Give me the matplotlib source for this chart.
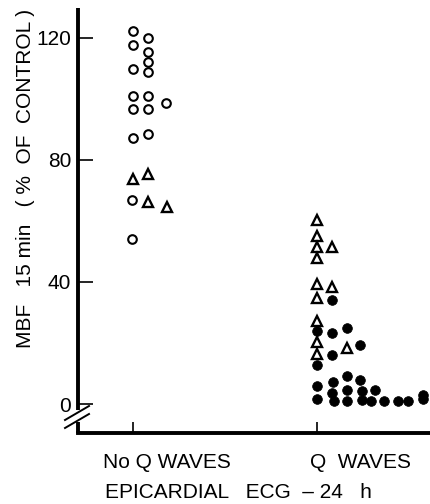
import matplotlib
matplotlib.use("Agg")
import matplotlib.pyplot as plt
from matplotlib.lines import Line2D
from matplotlib import font_manager

plt.rcParams['font.family'] = ['Liberation Sans', 'DejaVu Sans']

# ---- data ----
categories = ["No Q WAVES", "Q WAVES"]
# column index within each group (dot-plot column), value in % of control
noq_circle_col = [0, 1, 0, 1, 1, 0, 1, 0, 1, 2.2, 0, 1, 0, 1, -0.1, -0.1]
noq_circle_val = [122.3, 120.1, 117.6, 115.4, 112.0, 109.7, 108.7, 100.8, 100.8,
                  98.6, 96.6, 96.6, 87.2, 88.5, 66.8, 54.2]
noq_tri_col = [0, 1, 1, 2.25]
noq_tri_val = [73.7, 75.4, 66.2, 64.7]

q_tri_col = [0, 0, 0, 1, 0, 0, 1, 0, 0, 0, 0, 2]
q_tri_val = [60.4, 55.2, 51.4, 51.4, 48.0, 39.2, 38.3, 34.7, 27.2, 20.4, 16.5, 18.2]
q_dot_col = [1, 0, 1, 2, 1, 2.9, 0, 0, 1.1, 2, 2.9, 0, 1, 1.15, 2, 2, 3, 3,
             3.9, 3.6, 4.5, 5.4, 6.1, 7.1, 7.1]
q_dot_val = [34.2, 24.0, 23.2, 25.0, 16.2, 19.4, 12.8, 6.0, 7.3, 9.3, 8.0, 1.8,
             3.6, 1.0, 4.5, 1.0, 4.4, 1.3, 4.7, 1.0, 1.0, 1.0, 1.0, 3.1, 1.5]
yticks = [0, 40, 80, 120]

names = {f.name for f in font_manager.fontManager.ttflist}
narrow = 'Liberation Sans Narrow' if 'Liberation Sans Narrow' in names else 'Liberation Sans'

W, H = 431, 504
fig = plt.figure(figsize=(W / 100, H / 100), dpi=100)
left_px, right_px, top_px, bot_px = 78, 431, 8, 433
ax = fig.add_axes([left_px / W, 1 - bot_px / H, (right_px - left_px) / W, (bot_px - top_px) / H])

col_w = 0.0815  # column spacing in x units
ax.set_xlim(0.701, 2.62)
ax.set_ylim(-9.5, 129.8)

def xs(base, cols):
    return [base + c * col_w for c in cols]

ax.plot(xs(1, noq_circle_col), noq_circle_val, 'o', ms=6.2, mfc='white', mec='black', mew=1.5, ls='none', clip_on=False)
ax.plot(xs(1, noq_tri_col), noq_tri_val, '^', ms=7.2, mfc='white', mec='black', mew=1.7, ls='none', clip_on=False)
ax.plot(xs(2, q_tri_col), q_tri_val, '^', ms=7.2, mfc='white', mec='black', mew=1.7, ls='none', clip_on=False, zorder=3)
ax.plot(xs(2, q_dot_col), q_dot_val, 'o', ms=7, mfc='black', mec='black', mew=0.5, ls='none', clip_on=False, zorder=2)

for s in ['top', 'right', 'left']:
    ax.spines[s].set_visible(False)
ax.spines['bottom'].set_linewidth(2.8)
ax.spines['bottom'].set_capstyle('projecting')

# y axis with break
ylo, yhi = ax.get_ylim()
ax.plot([0.701, 0.701], [-2.0, yhi], color='black', lw=2.8, clip_on=False, solid_capstyle='butt')
ax.plot([0.701, 0.701], [-5.8, ylo], color='black', lw=2.8, clip_on=False, solid_capstyle='butt')

ax.set_yticks(yticks)
ax.set_yticklabels([str(v) for v in yticks], fontsize=15, family=[narrow, 'DejaVu Sans'])
ax.set_xticks([1, 2])
ax.set_xticklabels([])
ax.tick_params(axis='y', direction='in', length=11, width=1.2, pad=5)
ax.tick_params(axis='x', direction='in', length=8, width=1.2)

# break slashes (figure pixel coords, top-down)
def fx(p):
    return p / W
def fy(p):
    return 1 - p / H
for dy in (0, 8):
    fig.add_artist(Line2D([fx(65), fx(89)], [fy(420 + dy), fy(406 + dy)],
                          color='black', lw=1.4, transform=fig.transFigure))

# labels
fig.text(fx(167), fy(463), categories[0], ha='center', va='center', fontsize=15)
fig.text(fx(361), fy(463), categories[1].replace(' ', '  '), ha='center', va='center', fontsize=15)
fig.text(fx(238), fy(492), "EPICARDIAL   ECG  \u2013 24   h", ha='center', va='center', fontsize=15)
fig.text(fx(26), fy(178), "MBF   15 min   ( %  OF  CONTROL )", ha='center', va='center',
         rotation=90, fontsize=15)

fig.savefig("out.png", dpi=100)
